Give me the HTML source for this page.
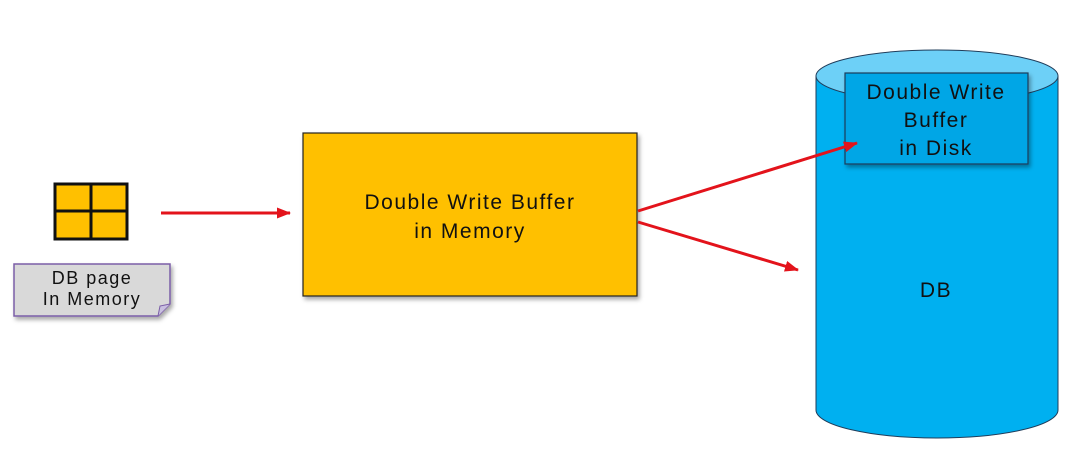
<!DOCTYPE html>
<html><head><style>
html,body{margin:0;padding:0;background:#fff;width:1082px;height:462px;overflow:hidden}
</style></head><body>
<svg width="1082" height="462" xmlns="http://www.w3.org/2000/svg" style="font-family:'Liberation Sans','Noto Sans CJK KR',sans-serif">
<defs>
<filter id="sh" x="-10%" y="-10%" width="130%" height="130%"><feDropShadow dx="2" dy="3" stdDeviation="2" flood-color="#000" flood-opacity="0.35"/></filter>
<marker id="ah" markerWidth="14" markerHeight="11" refX="13" refY="5.5" orient="auto" markerUnits="userSpaceOnUse"><path d="M0,0 L14,5.5 L0,11 z" fill="#e3131b"/></marker>
</defs>
<rect x="55" y="184" width="72" height="55" fill="#ffc000" stroke="#111" stroke-width="3"/>
<line x1="91" y1="184" x2="91" y2="239" stroke="#111" stroke-width="3"/>
<line x1="55" y1="211" x2="127" y2="211" stroke="#111" stroke-width="3"/>
<path d="M14,264 L170,264 L170,304 L158,316 L14,316 Z" fill="#d9d9d9" stroke="#7b5ea7" stroke-width="1.5" filter="url(#sh)"/>
<path d="M158,316 L160,306 L170,304" fill="#c9c0e0" stroke="#7b5ea7" stroke-width="1"/>
<g font-size="18" letter-spacing="1.5" text-anchor="middle" fill="#111">
<text x="92" y="284">DB page</text>
<text x="92" y="305">In Memory</text>
</g>
<line x1="161" y1="213" x2="290" y2="213" stroke="#e3131b" stroke-width="3" marker-end="url(#ah)"/>
<rect x="303" y="133" width="334" height="163" fill="#ffc000" stroke="#222" stroke-width="1.2" filter="url(#sh)"/>
<g font-size="21" letter-spacing="1.5" text-anchor="middle" fill="#111">
<text x="470" y="209">Double Write Buffer</text>
<text x="470" y="238">in Memory</text>
</g>
<path d="M816,76 L816,410 A121,28 0 0 0 1058,410 L1058,76 Z" fill="#00b0f0" stroke="#1f3c5a" stroke-width="1"/>
<ellipse cx="937" cy="76" rx="121" ry="26" fill="#6dd0f7" stroke="#1f3c5a" stroke-width="1"/>
<rect x="845" y="73" width="183" height="91" fill="#00a6e6" stroke="#1f3c5a" stroke-width="1.2" filter="url(#sh)"/>
<g font-size="21" letter-spacing="1.5" text-anchor="middle" fill="#111">
<text x="936" y="99">Double Write</text>
<text x="936" y="127">Buffer</text>
<text x="936" y="155">in Disk</text>
<text x="936" y="297">DB</text>
</g>
<line x1="638" y1="211" x2="857" y2="143" stroke="#e3131b" stroke-width="3" marker-end="url(#ah)"/>
<line x1="638" y1="222" x2="798" y2="270" stroke="#e3131b" stroke-width="3" marker-end="url(#ah)"/>
</svg>
</body></html>
